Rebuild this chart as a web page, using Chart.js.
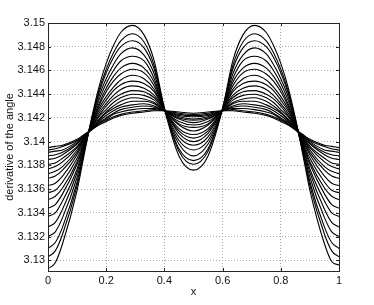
<!DOCTYPE html>
<html>
<head>
<meta charset="utf-8">
<script src="https://cdn.jsdelivr.net/npm/chart.js@4/dist/chart.umd.min.js"></script>
<style>
html,body{margin:0;padding:0;background:#fff;}
#wrap{width:374px;height:305px;}
</style>
</head>
<body>
<div id="wrap"><canvas id="c" width="374" height="305" style="width:374px;height:305px"></canvas></div>
<script>
const xs = [0, 0.025, 0.05, 0.1, 0.125, 0.15, 0.175, 0.2, 0.225, 0.25, 0.29, 0.33, 0.365, 0.4, 0.45, 0.5, 0.55, 0.6, 0.635, 0.67, 0.71, 0.75, 0.775, 0.8, 0.825, 0.85, 0.875, 0.9, 0.95, 0.975, 1];
const xTicks = [0, 0.2, 0.4, 0.6, 0.8, 1];
const yTicks = [3.13, 3.132, 3.134, 3.136, 3.138, 3.14, 3.142, 3.144, 3.146, 3.148, 3.15];

const c01 = [3.1293, 3.1298, 3.1314, 3.1359, 3.1390, 3.1420, 3.1446, 3.1466, 3.1481, 3.1492, 3.1498, 3.1490, 3.1468, 3.1428, 3.1388, 3.1376, 3.1388, 3.1428, 3.1468, 3.1490, 3.1498, 3.1492, 3.1481, 3.1466, 3.1446, 3.1420, 3.1390, 3.1359, 3.1314, 3.1299, 3.1296];
const c02 = [3.1303, 3.1308, 3.1322, 3.1363, 3.1392, 3.1419, 3.1443, 3.1461, 3.1475, 3.1485, 3.1491, 3.1484, 3.1464, 3.1428, 3.1392, 3.1381, 3.1392, 3.1428, 3.1464, 3.1484, 3.1491, 3.1485, 3.1475, 3.1461, 3.1443, 3.1419, 3.1392, 3.1363, 3.1322, 3.1308, 3.1303];
const c03 = [3.1310, 3.1315, 3.1328, 3.1366, 3.1393, 3.1418, 3.1441, 3.1458, 3.1471, 3.1480, 3.1485, 3.1479, 3.1461, 3.1428, 3.1394, 3.1384, 3.1394, 3.1428, 3.1461, 3.1479, 3.1485, 3.1480, 3.1471, 3.1458, 3.1441, 3.1418, 3.1393, 3.1366, 3.1328, 3.1315, 3.1310];
const c04 = [3.1320, 3.1324, 3.1336, 3.1370, 3.1394, 3.1417, 3.1438, 3.1453, 3.1465, 3.1474, 3.1479, 3.1473, 3.1457, 3.1427, 3.1398, 3.1388, 3.1398, 3.1427, 3.1457, 3.1473, 3.1479, 3.1474, 3.1465, 3.1453, 3.1438, 3.1417, 3.1394, 3.1370, 3.1336, 3.1324, 3.1320];
const c05 = [3.1328, 3.1332, 3.1343, 3.1374, 3.1396, 3.1417, 3.1435, 3.1449, 3.1460, 3.1468, 3.1472, 3.1468, 3.1453, 3.1427, 3.1401, 3.1393, 3.1401, 3.1427, 3.1453, 3.1468, 3.1472, 3.1468, 3.1460, 3.1449, 3.1435, 3.1417, 3.1396, 3.1374, 3.1343, 3.1332, 3.1328];
const c06 = [3.1337, 3.1340, 3.1350, 3.1377, 3.1397, 3.1416, 3.1432, 3.1445, 3.1455, 3.1462, 3.1466, 3.1462, 3.1450, 3.1427, 3.1404, 3.1397, 3.1404, 3.1427, 3.1450, 3.1462, 3.1466, 3.1462, 3.1455, 3.1445, 3.1432, 3.1416, 3.1397, 3.1377, 3.1350, 3.1340, 3.1337];
const c07 = [3.1344, 3.1347, 3.1356, 3.1381, 3.1398, 3.1415, 3.1430, 3.1442, 3.1451, 3.1457, 3.1461, 3.1458, 3.1447, 3.1427, 3.1407, 3.1400, 3.1407, 3.1427, 3.1447, 3.1458, 3.1461, 3.1457, 3.1451, 3.1442, 3.1430, 3.1415, 3.1398, 3.1381, 3.1356, 3.1347, 3.1344];
const c08 = [3.1351, 3.1354, 3.1361, 3.1383, 3.1399, 3.1414, 3.1428, 3.1438, 3.1446, 3.1452, 3.1456, 3.1453, 3.1444, 3.1427, 3.1409, 3.1403, 3.1409, 3.1427, 3.1444, 3.1453, 3.1456, 3.1452, 3.1446, 3.1438, 3.1428, 3.1414, 3.1399, 3.1383, 3.1361, 3.1354, 3.1351];
const c09 = [3.1357, 3.1359, 3.1366, 3.1386, 3.1400, 3.1414, 3.1426, 3.1435, 3.1443, 3.1448, 3.1451, 3.1449, 3.1442, 3.1427, 3.1411, 3.1406, 3.1411, 3.1427, 3.1442, 3.1449, 3.1451, 3.1448, 3.1443, 3.1435, 3.1426, 3.1414, 3.1400, 3.1386, 3.1366, 3.1359, 3.1357];
const c10 = [3.1363, 3.1365, 3.1371, 3.1389, 3.1401, 3.1413, 3.1424, 3.1432, 3.1439, 3.1444, 3.1447, 3.1445, 3.1439, 3.1427, 3.1414, 3.1409, 3.1414, 3.1427, 3.1439, 3.1445, 3.1447, 3.1444, 3.1439, 3.1432, 3.1424, 3.1413, 3.1401, 3.1389, 3.1371, 3.1365, 3.1363];
const c11 = [3.1369, 3.1371, 3.1376, 3.1391, 3.1402, 3.1413, 3.1422, 3.1430, 3.1436, 3.1440, 3.1443, 3.1442, 3.1437, 3.1427, 3.1415, 3.1412, 3.1415, 3.1427, 3.1437, 3.1442, 3.1443, 3.1440, 3.1436, 3.1430, 3.1422, 3.1413, 3.1402, 3.1391, 3.1376, 3.1371, 3.1369];
const c12 = [3.1373, 3.1375, 3.1379, 3.1393, 3.1403, 3.1412, 3.1421, 3.1427, 3.1433, 3.1437, 3.1440, 3.1439, 3.1435, 3.1426, 3.1417, 3.1414, 3.1417, 3.1426, 3.1435, 3.1439, 3.1440, 3.1437, 3.1433, 3.1427, 3.1421, 3.1412, 3.1403, 3.1393, 3.1379, 3.1375, 3.1373];
const c13 = [3.1377, 3.1379, 3.1383, 3.1395, 3.1403, 3.1412, 3.1419, 3.1425, 3.1430, 3.1434, 3.1437, 3.1436, 3.1433, 3.1426, 3.1419, 3.1416, 3.1419, 3.1426, 3.1433, 3.1436, 3.1437, 3.1434, 3.1430, 3.1425, 3.1419, 3.1412, 3.1403, 3.1395, 3.1383, 3.1379, 3.1377];
const c14 = [3.1381, 3.1382, 3.1386, 3.1396, 3.1404, 3.1411, 3.1418, 3.1424, 3.1428, 3.1431, 3.1434, 3.1434, 3.1432, 3.1426, 3.1420, 3.1418, 3.1420, 3.1426, 3.1432, 3.1434, 3.1434, 3.1431, 3.1428, 3.1424, 3.1418, 3.1411, 3.1404, 3.1396, 3.1386, 3.1382, 3.1381];
const c15 = [3.1385, 3.1386, 3.1389, 3.1398, 3.1404, 3.1411, 3.1417, 3.1422, 3.1426, 3.1429, 3.1431, 3.1432, 3.1430, 3.1426, 3.1421, 3.1419, 3.1421, 3.1426, 3.1430, 3.1432, 3.1431, 3.1429, 3.1426, 3.1422, 3.1417, 3.1411, 3.1404, 3.1398, 3.1389, 3.1386, 3.1385];
const c16 = [3.1388, 3.1389, 3.1391, 3.1399, 3.1405, 3.1411, 3.1416, 3.1420, 3.1424, 3.1427, 3.1429, 3.1430, 3.1429, 3.1426, 3.1422, 3.1421, 3.1422, 3.1426, 3.1429, 3.1430, 3.1429, 3.1427, 3.1424, 3.1420, 3.1416, 3.1411, 3.1405, 3.1399, 3.1391, 3.1389, 3.1388];
const c17 = [3.1391, 3.1392, 3.1393, 3.1400, 3.1405, 3.1410, 3.1415, 3.1419, 3.1423, 3.1425, 3.1427, 3.1428, 3.1428, 3.1426, 3.1423, 3.1422, 3.1423, 3.1426, 3.1428, 3.1428, 3.1427, 3.1425, 3.1423, 3.1419, 3.1415, 3.1410, 3.1405, 3.1400, 3.1393, 3.1392, 3.1391];
const c18 = [3.1393, 3.1394, 3.1396, 3.1401, 3.1406, 3.1410, 3.1415, 3.1418, 3.1421, 3.1423, 3.1425, 3.1426, 3.1427, 3.1426, 3.1424, 3.1423, 3.1424, 3.1426, 3.1427, 3.1426, 3.1425, 3.1423, 3.1421, 3.1418, 3.1415, 3.1410, 3.1406, 3.1401, 3.1396, 3.1394, 3.1393];
const c19 = [3.1395, 3.1396, 3.1397, 3.1402, 3.1406, 3.1410, 3.1414, 3.1417, 3.1420, 3.1422, 3.1424, 3.1425, 3.1426, 3.1426, 3.1425, 3.1424, 3.1425, 3.1426, 3.1426, 3.1425, 3.1424, 3.1422, 3.1420, 3.1417, 3.1414, 3.1410, 3.1406, 3.1402, 3.1397, 3.1396, 3.1395];

const series = [c01, c02, c03, c04, c05, c06, c07, c08, c09, c10, c11, c12, c13, c14, c15, c16, c17, c18, c19];

const FONT = {family: '"Liberation Sans", Arial, Helvetica, sans-serif', size: 11};
const fmt = v => String(parseFloat(Number(v).toFixed(3)));

const boxPlugin = {
  id: 'box',
  afterDraw(chart) {
    const {ctx, chartArea: a, scales} = chart;
    ctx.save();
    ctx.strokeStyle = '#262626';
    ctx.lineWidth = 1;
    ctx.setLineDash([]);
    ctx.strokeRect(Math.round(a.left) + 0.5, Math.round(a.top) + 0.5, Math.round(a.right - a.left), Math.round(a.bottom - a.top));
    const L = 3;
    ctx.beginPath();
    yTicks.forEach(v => {
      const y = Math.round(scales.y.getPixelForValue(v)) + 0.5;
      ctx.moveTo(a.left, y); ctx.lineTo(a.left + L, y);
      ctx.moveTo(a.right, y); ctx.lineTo(a.right - L, y);
    });
    xTicks.forEach(v => {
      const x = Math.round(scales.x.getPixelForValue(v)) + 0.5;
      ctx.moveTo(x, a.bottom); ctx.lineTo(x, a.bottom - L);
      ctx.moveTo(x, a.top); ctx.lineTo(x, a.top + L);
    });
    ctx.stroke();
    ctx.restore();
  }
};

new Chart(document.getElementById('c'), {
  type: 'line',
  data: {
    datasets: series.map((s, i) => ({
      label: 'curve ' + (i + 1),
      data: s.map((v, j) => ({x: xs[j], y: v})),
      borderColor: '#000',
      borderWidth: 1.1,
      pointRadius: 0,
      fill: false,
      cubicInterpolationMode: 'monotone'
    }))
  },
  options: {
    responsive: false,
    animation: false,
    devicePixelRatio: 1,
    layout: {padding: {left: 0, right: 35, top: 23, bottom: 0}},
    plugins: {legend: {display: false}, tooltip: {enabled: false}},
    scales: {
      x: {
        type: 'linear', min: 0, max: 1,
        afterBuildTicks: s => { s.ticks = xTicks.map(v => ({value: v})); },
        afterFit: s => { s.height = 34; },
        ticks: {font: FONT, color: '#111', padding: 3, maxRotation: 0, callback: v => fmt(v)},
        grid: {color: '#a8a8a8', lineWidth: 1, drawTicks: false},
        border: {display: false, dash: [1, 2]},
        title: {display: true, text: 'x', font: FONT, color: '#111', padding: {top: 0, bottom: 6}}
      },
      y: {
        type: 'linear', min: 3.1291, max: 3.15,
        afterBuildTicks: s => { s.ticks = yTicks.map(v => ({value: v})); },
        afterFit: s => { s.width = 48; },
        ticks: {font: FONT, color: '#111', padding: 3, callback: v => fmt(v)},
        grid: {color: '#a8a8a8', lineWidth: 1, drawTicks: false},
        border: {display: false, dash: [1, 2]},
        title: {display: true, text: 'derivative of the angle', font: FONT, color: '#111', padding: {top: 3, bottom: 0}}
      }
    }
  },
  plugins: [boxPlugin]
});
</script>
</body>
</html>
